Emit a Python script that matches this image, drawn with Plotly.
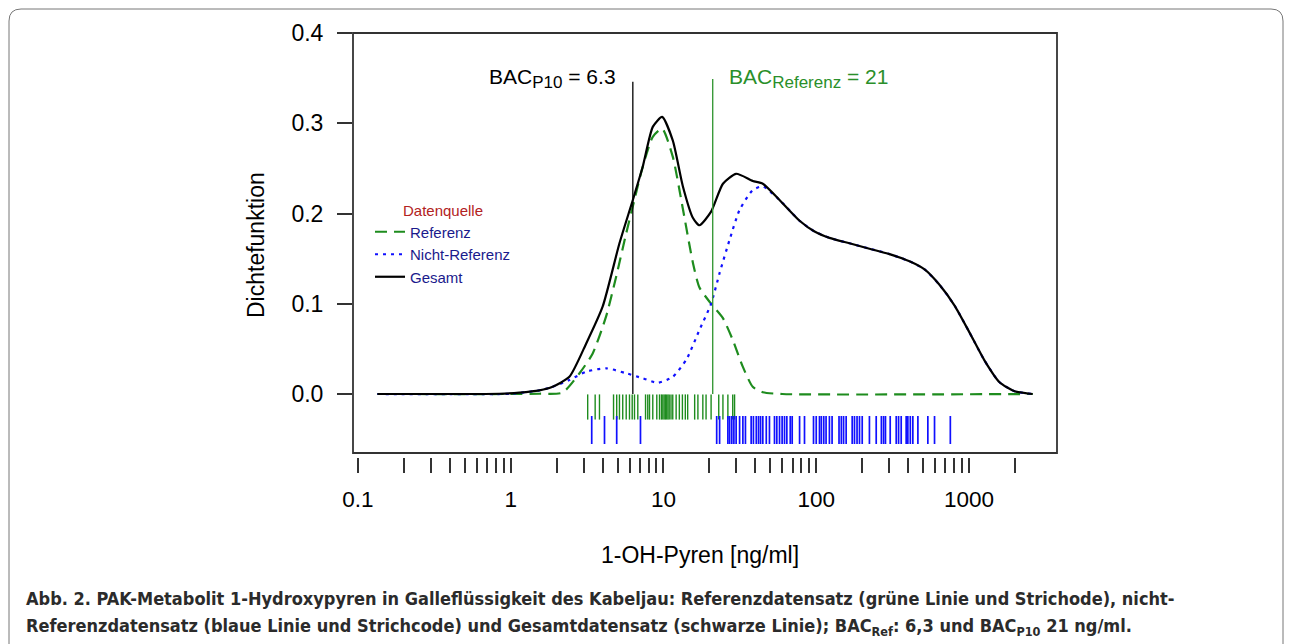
import math
import plotly.graph_objects as go

# ---------------- data ----------------
# Gesamt (black, solid)
ges_x = [0.134, 0.40, 0.84, 1.14, 1.54, 1.88, 2.42, 3.12, 4.00, 5.15, 6.30, 7.32, 8.51, 9.80,
         11.5, 13.4, 15.6, 17.2, 20.5, 24.5, 29.9, 38.4, 44.7, 57.5, 77.8, 97.5, 122, 165, 223,
         302, 408, 512, 641, 805, 1009, 1265, 1585, 1989, 2612]
ges_y = [0, 0, 0.0003, 0.0015, 0.004, 0.008, 0.019, 0.056, 0.097, 0.167, 0.215, 0.252, 0.296, 0.307,
         0.281, 0.230, 0.195, 0.187, 0.202, 0.233, 0.244, 0.236, 0.233, 0.215, 0.192, 0.180, 0.173,
         0.167, 0.161, 0.155, 0.147, 0.138, 0.121, 0.098, 0.068, 0.037, 0.013, 0.003, 0.0]

# Referenz (green, dashed)
ref_x = [0.134, 1.0, 1.54, 2.18, 2.82, 3.44, 4.21, 4.90, 5.70, 6.30, 7.32, 8.51, 9.80, 11.5, 13.4,
         15.6, 17.2, 20.5, 24.5, 28.4, 33.1, 38.4, 44.7, 60, 2612]
ref_y = [0, 0, 0.0003, 0.0015, 0.023, 0.045, 0.086, 0.130, 0.178, 0.208, 0.252, 0.285, 0.294, 0.263,
         0.205, 0.145, 0.118, 0.100, 0.084, 0.060, 0.030, 0.008, 0.002, 0, 0]

# Nicht-Referenz (blue, dotted)
nref_x = [0.134, 1.0, 1.14, 1.54, 1.88, 2.42, 3.12, 4.21, 5.70, 7.32, 9.18, 11.5, 14.1, 17.2, 20.5,
          23.3, 27.1, 31.5, 38.4, 44.7, 57.5, 77.8, 97.5, 122, 165, 223, 302, 408, 512, 641, 805,
          1009, 1265, 1585, 1989, 2612]
nref_y = [0, 0.0002, 0.0012, 0.004, 0.008, 0.0155, 0.0247, 0.0285, 0.023, 0.0174, 0.0125, 0.019,
          0.038, 0.071, 0.100, 0.134, 0.171, 0.204, 0.226, 0.230, 0.215, 0.192, 0.180, 0.173, 0.167,
          0.161, 0.155, 0.147, 0.138, 0.121, 0.098, 0.068, 0.037, 0.013, 0.003, 0.0]

# rug (barcode) values [ng/ml]
rug_ref = [3.19, 3.57, 3.81, 4.71, 4.94, 5.15, 5.41, 5.70, 5.99, 6.24, 6.46, 6.79, 7.63, 7.89, 8.10,
           8.51, 9.04, 9.42, 9.7, 9.9, 10.1, 10.3, 10.5, 10.7, 10.9, 11.2, 11.5, 12.1, 12.7, 13.3,
           13.9, 14.4, 16.0, 16.8, 18.1, 19.0, 20.5, 23.0, 24.5, 26.4, 28.4, 29.2]
rug_nref = [3.39, 4.11, 4.94, 7.07, 22.3, 23.3, 26.4, 27.1, 28.0, 28.9, 29.9, 31.5, 33.1, 34.4, 37.5,
            38.8, 40.5, 41.9, 43.2, 44.7, 47.1, 49.4, 53.3, 55.2, 57.5, 59.8, 62.0, 64.2, 67.6, 69.6,
            77.8, 83.8, 96.0, 100, 105, 108, 112, 116, 122, 127, 141, 146, 151, 157, 172, 178, 185,
            192, 200, 223, 247, 267, 276, 284, 305, 334, 346, 360, 388, 398, 413, 429, 463, 538, 595,
            755]

# BAC markers
bac_p10 = 6.3
bac_ref = 21
bac_top = 0.346

# axis ticks
x_major = [0.1, 1, 10, 100, 1000]
x_major_text = ["0.1", "1", "10", "100", "1000"]
x_minor = [0.2, 0.3, 0.4, 0.5, 0.6, 0.7, 0.8, 0.9,
           2, 3, 4, 5, 6, 7, 8, 9,
           20, 30, 40, 50, 60, 70, 80, 90,
           200, 300, 400, 500, 600, 700, 800, 900,
           2000]
y_tickvals = [0.0, 0.1, 0.2, 0.3, 0.4]
y_ticktext = ["0.0", "0.1", "0.2", "0.3", "0.4"]

# ---------------- layout geometry ----------------
W, H = 1290, 644
PL, PR, PT, PB = 353, 1057, 33, 457


def px(X):
    return (X - PL) / (PR - PL)


def py(Y):
    return (PB - Y) / (PB - PT)


GREEN = "#1e8c1e"
BLUE = "#1010ff"
FONT = "Liberation Sans, Arial, sans-serif"
TICKC = "#333333"

fig = go.Figure()

fig.add_trace(go.Scatter(x=ref_x, y=ref_y, mode="lines", name="Referenz",
                         line=dict(color=GREEN, width=2.2, dash="12px,7px", shape="spline", smoothing=0.6)))
fig.add_trace(go.Scatter(x=nref_x, y=nref_y, mode="lines", name="Nicht-Referenz",
                         line=dict(color=BLUE, width=2.2, dash="3px,5px", shape="spline", smoothing=0.6)))
fig.add_trace(go.Scatter(x=ges_x, y=ges_y, mode="lines", name="Gesamt",
                         line=dict(color="black", width=2.2, shape="spline", smoothing=0.6)))

rug_y_ref = -0.0144
rug_y_nref = -0.0399
fig.add_trace(go.Scatter(x=rug_ref, y=[rug_y_ref] * len(rug_ref), mode="markers", showlegend=False,
                         marker=dict(symbol="line-ns", size=18, line=dict(width=1.4, color=GREEN))))
fig.add_trace(go.Scatter(x=rug_nref, y=[rug_y_nref] * len(rug_nref), mode="markers", showlegend=False,
                         marker=dict(symbol="line-ns", size=20, line=dict(width=1.7, color=BLUE))))

shapes = []
# BAC vertical lines
shapes.append(dict(type="line", xref="x", yref="y", x0=bac_p10, x1=bac_p10, y0=0, y1=bac_top,
                   line=dict(color="black", width=1.3)))
shapes.append(dict(type="line", xref="x", yref="y", x0=bac_ref, x1=bac_ref, y0=0, y1=bac_top + 0.003,
                   line=dict(color="#3a9a3a", width=1.4)))
# plot box
shapes.append(dict(type="rect", xref="paper", yref="paper", x0=0, x1=1, y0=py(453), y1=1,
                   line=dict(color="#333333", width=1.8), layer="above"))
# rounded outer frame
r = 12
L, T, R, B = 9, 9, 1283, 700
path = (f"M {px(L)},{py(B)} L {px(L)},{py(T + r)} Q {px(L)},{py(T)} {px(L + r)},{py(T)} "
        f"L {px(R - r)},{py(T)} Q {px(R)},{py(T)} {px(R)},{py(T + r)} L {px(R)},{py(B)}")
shapes.append(dict(type="path", xref="paper", yref="paper", path=path,
                   line=dict(color="#777777", width=1)))

annotations = []
SUB = "<sub><span style='font-size:17px'>{}</span></sub>"
# on a log axis, annotation x is given as log10 of the value
annotations.append(dict(xref="x", yref="y", x=math.log10(bac_p10), y=0.35, xanchor="right", yanchor="middle",
                        xshift=-15, showarrow=False,
                        text="BAC" + SUB.format("P10") + " = 6.3",
                        font=dict(family=FONT, size=21, color="black")))
annotations.append(dict(xref="x", yref="y", x=math.log10(bac_ref), y=0.35, xanchor="left", yanchor="middle",
                        xshift=14, showarrow=False,
                        text="BAC" + SUB.format("Referenz") + " = 21",
                        font=dict(family=FONT, size=21, color="#2a8f2a")))
# axis titles
annotations.append(dict(xref="paper", yref="paper", x=px(700), y=py(555), xanchor="center", yanchor="middle",
                        showarrow=False, text="1-OH-Pyren [ng/ml]",
                        font=dict(family=FONT, size=23, color="black")))
annotations.append(dict(xref="paper", yref="paper", x=px(256), y=py(245), xanchor="center", yanchor="middle",
                        showarrow=False, text="Dichtefunktion", textangle=-90,
                        font=dict(family=FONT, size=23, color="black")))
# caption
CAP_FONT = "Liberation Sans Narrow, DejaVu Sans Condensed, Roboto Condensed, Arial Narrow, sans-serif"
annotations.append(dict(xref="paper", yref="paper", x=px(24), y=py(598), xanchor="left", yanchor="middle",
                        showarrow=False,
                        text="Abb. 2. PAK-Metabolit 1-Hydroxypyren in Galleflüssigkeit des Kabeljau: "
                             "Referenzdatensatz (grüne Linie und Strichode), nicht-",
                        font=dict(family=CAP_FONT, size=18, color="#2b2b2b", weight="bold")))
annotations.append(dict(xref="paper", yref="paper", x=px(24), y=py(627), xanchor="left", yanchor="middle",
                        showarrow=False,
                        text="Referenzdatensatz (blaue Linie und Strichcode) und Gesamtdatensatz (schwarze Linie); "
                             "BAC<sub>Ref</sub>: 6,3 und BAC<sub>P10</sub> 21 ng/ml.",
                        font=dict(family=CAP_FONT, size=18, color="#2b2b2b", weight="bold")))

ymin = -0.4 * (PB - 394) / (394 - PT)

fig.update_layout(
    width=W, height=H,
    margin=dict(l=PL, r=W - PR, t=PT, b=H - PB, pad=0),
    paper_bgcolor="white", plot_bgcolor="white",
    shapes=shapes, annotations=annotations,
    showlegend=True,
    legend=dict(x=px(370), y=py(196), xanchor="left", yanchor="top",
                bgcolor="rgba(0,0,0,0)", borderwidth=0,
                font=dict(family=FONT, size=15, color="#1a1a8c"),
                title=dict(text="Datenquelle", side="top center",
                           font=dict(family=FONT, size=15, color="#b22222")),
                tracegroupgap=0),
    xaxis=dict(type="log", range=[-1.0327, 3.5763], tickmode="array", tickvals=x_major,
               ticktext=x_major_text,
               ticks="outside", ticklen=15, tickwidth=1.6, tickcolor=TICKC,
               minor=dict(tickmode="array", tickvals=x_minor, ticks="outside", ticklen=15,
                          tickwidth=1.6, tickcolor=TICKC, showgrid=False),
               showline=False, showgrid=False, zeroline=False, ticklabelstandoff=7,
               tickfont=dict(family=FONT, size=22.5, color="black")),
    yaxis=dict(range=[ymin, 0.4], tickmode="array", tickvals=y_tickvals,
               ticktext=y_ticktext,
               ticks="outside", ticklen=15, tickwidth=1.6, tickcolor=TICKC,
               showline=False, showgrid=False, zeroline=False, ticklabelstandoff=9,
               tickfont=dict(family=FONT, size=23, color="black")),
)

fig.write_html("out.html", config={"displayModeBar": False},
               post_script="document.body.style.margin='0';")
